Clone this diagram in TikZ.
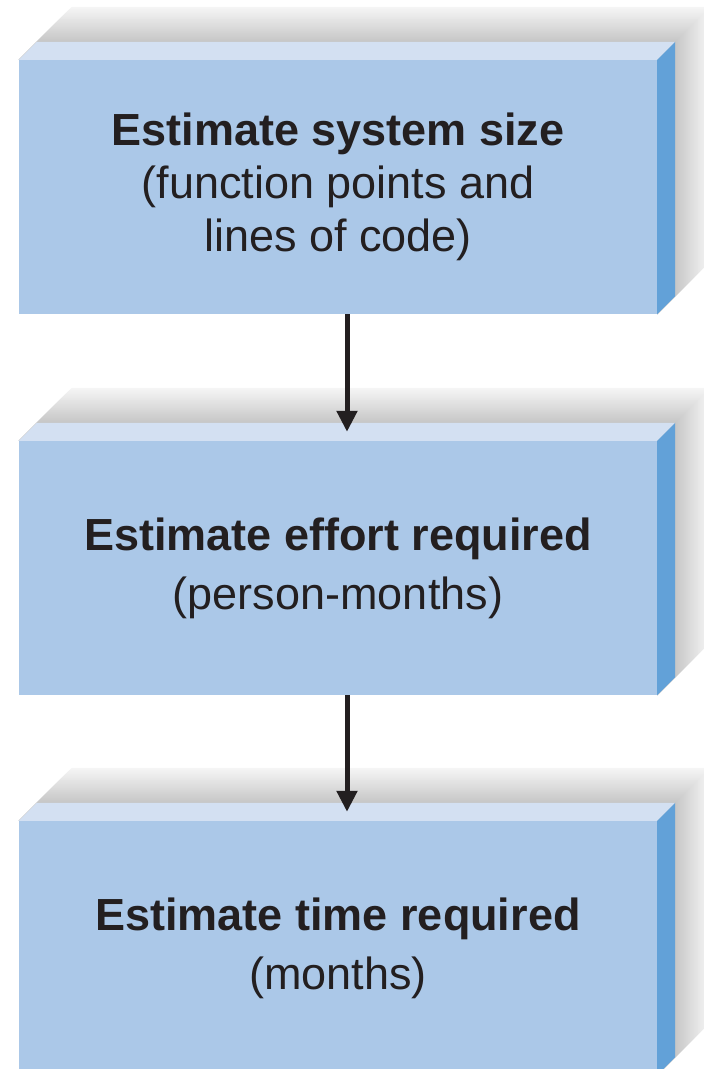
\documentclass[tikz,border=0pt]{standalone}
\usepackage{fontspec}
\setmainfont{Liberation Sans}
\usetikzlibrary{arrows.meta,calc,positioning}
\definecolor{facefront}{HTML}{ABC8E8}
\definecolor{facetop}{HTML}{D3E0F2}
\definecolor{faceside}{HTML}{62A1D8}
\definecolor{inktext}{HTML}{231F20}

\tikzset{
  stage/.style={fill=facefront, minimum width=638pt, minimum height=254pt, inner sep=0pt,
    align=center, text=inktext, font=\fontsize{45}{53}\selectfont},
  flow/.style={draw=inktext, line width=5pt, -{Triangle[length=21pt,width=20pt]}}
}

% shadow, top face and side face of a block
\newcommand{\blockdepth}[1]{%
  \foreach \d in {53,51,...,19}{
    \pgfmathtruncatemacro{\shade}{8+37*(53-\d)/34}
    \fill[gray!\shade] (#1.north west) -- ++(\d pt,\d pt) -- ($(#1.north east)+(\d pt,\d pt)$)
      -- ($(#1.south east)+(\d pt,\d pt)$) -- (#1.south east) -- (#1.north east) -- cycle;
  }
  \fill[facetop] (#1.north west) -- ++(18pt,18pt) -- ($(#1.north east)+(18pt,18pt)$) -- (#1.north east) -- cycle;
  \fill[faceside] (#1.north east) -- ++(18pt,18pt) -- ($(#1.south east)+(18pt,18pt)$) -- (#1.south east) -- cycle;
}

\begin{document}
\begin{tikzpicture}[x=1pt, y=-1pt]
\useasboundingbox (0,0) rectangle (704,1069);

\node[stage] (size) at (338,187) {\textbf{Estimate system size}\\(function points and\\lines of code)};
\node[stage] (effort) at (338,568) {\textbf{Estimate effort required}\\[6pt](person-months)};
\node[stage] (time) at (338,948) {\textbf{Estimate time required}\\[6pt](months)};

\foreach \b in {size, effort, time}
  \blockdepth{\b};

\draw[flow] ([xshift=9pt]size.south) -- ([xshift=9pt,yshift=9pt]effort.north);
\draw[flow] ([xshift=9pt]effort.south) -- ([xshift=9pt,yshift=9pt]time.north);

\end{tikzpicture}
\end{document}
